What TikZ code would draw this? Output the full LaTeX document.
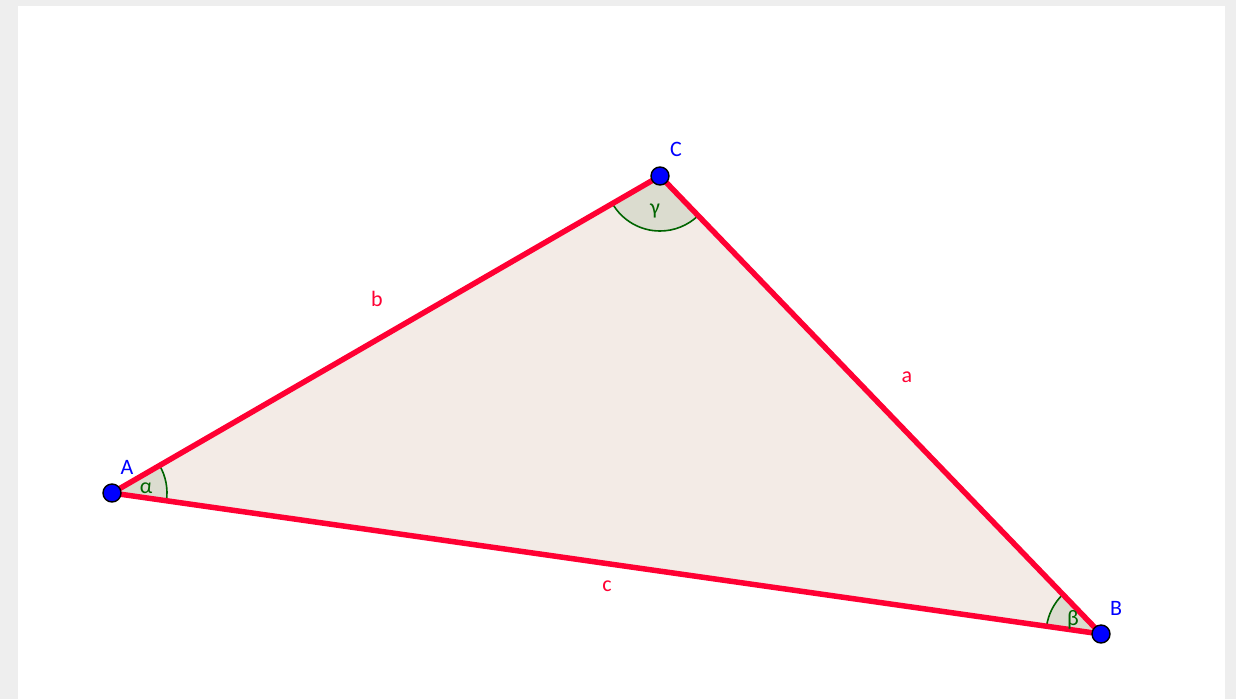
\documentclass[tikz,border=0pt]{standalone}
\usepackage{fontspec}
\setmainfont{Carlito}
\usetikzlibrary{angles}
\definecolor{paper}{HTML}{EEEEEE}
\definecolor{trifill}{HTML}{F3EBE6}
\definecolor{angfill}{HTML}{DBDCCF}
\definecolor{ggred}{HTML}{FF0033}
\definecolor{gggreen}{HTML}{006400}
\definecolor{ggblue}{HTML}{0000FF}
\pgfdeclarelayer{bg}
\pgfdeclarelayer{mid}
\pgfsetlayers{bg,mid,main}
\tikzset{
  pt/.style={circle, fill=ggblue, draw=black, line width=1.4pt, minimum size=18pt, inner sep=0pt},
  side/.style={draw=ggred, line width=5.5pt, line join=round, line cap=round},
  ptlabel/.style={text=ggblue, font=\fontsize{22}{22}\selectfont, inner sep=0pt},
  sidelabel/.style={text=ggred, font=\fontsize{22}{22}\selectfont, inner sep=0pt},
  anglabel/.style={text=gggreen, font=\fontsize{22}{22}\selectfont, inner sep=0pt},
  angsec/.style={draw=gggreen, fill=angfill, line width=1.6pt, angle radius=55pt}
}
\begin{document}
\begin{tikzpicture}[x=1pt,y=-1pt]
\useasboundingbox (0,0) rectangle (1236,699);
\begin{pgfonlayer}{bg}
\fill[paper] (0,0) rectangle (1236,699);
\fill[white] (18,6) rectangle (1225,699);
\end{pgfonlayer}
\node[pt] (A) at (112,493) {};
\node[pt] (B) at (1101,634) {};
\node[pt] (C) at (660,176) {};
\begin{pgfonlayer}{mid}
\fill[trifill] (A.center) -- (B.center) -- (C.center) -- cycle;
\pic[angsec] {angle = B--A--C};
\pic[angsec] {angle = C--B--A};
\pic[angsec] {angle = A--C--B};
\draw[side] (A.center) -- (B.center);
\draw[side] (B.center) -- (C.center);
\draw[side] (C.center) -- (A.center);
\end{pgfonlayer}
\node[ptlabel] (lA) at (127,467) {A};
\node[ptlabel] (lB) at (1116,608) {B};
\node[ptlabel] (lC) at (676,149) {C};
\node[sidelabel] (la) at (907,377) {a};
\node[sidelabel] (lb) at (377,299) {b};
\node[sidelabel] (lc) at (607,586) {c};
\node[anglabel] (alpha) at (146,488) {α};
\node[anglabel] (beta) at (1073,620) {β};
\node[anglabel] (gamma) at (655,211) {γ};
\end{tikzpicture}
\end{document}
